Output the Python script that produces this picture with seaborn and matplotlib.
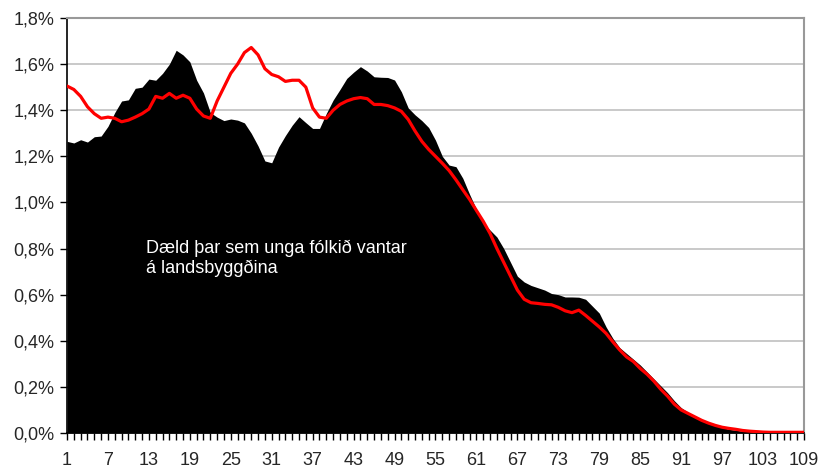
import numpy as np
import pandas as pd
import matplotlib
matplotlib.use('Agg')
import matplotlib.pyplot as plt
import seaborn as sns
from matplotlib.ticker import FuncFormatter, FixedLocator

# Aldur 1-109
ages = list(range(1, 110))

# Hlutfall af mannfjölda (%) - svarta svæðið
black_share = [
    1.265, 1.258, 1.272, 1.262, 1.285, 1.288, 1.33, 1.39, 1.44, 1.445,
    1.495, 1.50, 1.535, 1.53, 1.56, 1.60, 1.66, 1.64, 1.61, 1.53,
    1.475, 1.39, 1.37, 1.355, 1.362, 1.357, 1.345, 1.30, 1.245, 1.18,
    1.172, 1.24, 1.29, 1.335, 1.372, 1.346, 1.321, 1.321, 1.386, 1.444,
    1.49, 1.538, 1.565, 1.589, 1.57, 1.545, 1.543, 1.542, 1.531, 1.48,
    1.41, 1.38, 1.355, 1.325, 1.27, 1.20, 1.162, 1.155, 1.105, 1.035,
    0.97, 0.91, 0.88, 0.85, 0.80, 0.74, 0.68, 0.655, 0.64, 0.63,
    0.62, 0.605, 0.60, 0.59, 0.59, 0.589, 0.58, 0.55, 0.52, 0.46,
    0.41, 0.37, 0.345, 0.32, 0.295, 0.265, 0.235, 0.205, 0.175, 0.14,
    0.11, 0.09, 0.075, 0.058, 0.045, 0.033, 0.024, 0.016, 0.012, 0.008,
    0.005, 0.003, 0.002, 0.001, 0.001, 0.0005, 0.0003, 0.0002, 0.0001,
]

# Hlutfall af mannfjölda (%) - rauða línan
red_share = [
    1.505, 1.49, 1.46, 1.415, 1.385, 1.365, 1.37, 1.365, 1.35, 1.357,
    1.37, 1.385, 1.405, 1.46, 1.452, 1.473, 1.452, 1.465, 1.452, 1.405,
    1.375, 1.365, 1.44, 1.50, 1.56, 1.60, 1.65, 1.672, 1.64, 1.58,
    1.555, 1.545, 1.525, 1.53, 1.53, 1.50, 1.41, 1.37, 1.365, 1.40,
    1.425, 1.44, 1.45, 1.455, 1.45, 1.425, 1.425, 1.42, 1.41, 1.395,
    1.36, 1.31, 1.265, 1.23, 1.20, 1.17, 1.138, 1.098, 1.055, 1.013,
    0.965, 0.918, 0.865, 0.80, 0.74, 0.68, 0.62, 0.58, 0.565, 0.562,
    0.558, 0.556, 0.545, 0.53, 0.522, 0.533, 0.51, 0.485, 0.46, 0.432,
    0.395, 0.36, 0.33, 0.31, 0.28, 0.255, 0.225, 0.19, 0.16, 0.125,
    0.10, 0.085, 0.07, 0.055, 0.043, 0.033, 0.025, 0.02, 0.016, 0.011,
    0.008, 0.006, 0.004, 0.003, 0.003, 0.003, 0.003, 0.003, 0.003,
]

x_labels = list(range(1, 110, 6))
y_ticks = [0.0, 0.2, 0.4, 0.6, 0.8, 1.0, 1.2, 1.4, 1.6, 1.8]

sns.set_style('white')
plt.rcParams['font.family'] = ['Liberation Sans', 'DejaVu Sans']

df = pd.DataFrame({'aldur': ages, 'svart': black_share, 'rautt': red_share})

fig = plt.figure(figsize=(8.23, 4.68), dpi=100)
ax = fig.add_axes([67 / 823, 1 - 433 / 468, (804 - 67) / 823, (433 - 18) / 468])

ax.fill_between(df['aldur'], 0, df['svart'], color='black', linewidth=0, zorder=2)
sns.lineplot(data=df, x='aldur', y='rautt', color='#ff0000', linewidth=2.3, ax=ax, zorder=3)

ax.set_xlim(1, 109)
ax.set_ylim(0, 1.8)
ax.yaxis.set_major_locator(FixedLocator(y_ticks))
ax.yaxis.set_major_formatter(FuncFormatter(lambda v, p: f'{v:.1f}%'.replace('.', ',')))
ax.set_xticks(x_labels)
ax.set_xticks(ages, minor=True)
ax.set_xticklabels([str(v) for v in x_labels])
ax.grid(axis='y', color='#c0c0c0', linewidth=1.2, zorder=0)
ax.set_axisbelow(True)

ax.tick_params(axis='y', which='major', direction='out', length=5, width=1, color='black',
               labelsize=13, pad=4, left=True)
ax.tick_params(axis='x', which='both', direction='out', length=5, width=1, color='black',
               bottom=True)
ax.tick_params(axis='x', which='major', labelsize=13, pad=9)

for side in ['top', 'right']:
    ax.spines[side].set_color('#999999')
    ax.spines[side].set_linewidth(1.5)
for side in ['left', 'bottom']:
    ax.spines[side].set_color('black')
    ax.spines[side].set_linewidth(1.2)

ax.set_xlabel('')
ax.set_ylabel('')

ax.text(12.6, 0.84, 'Dæld þar sem unga fólkið vantar\ná landsbyggðina', color='white',
        fontsize=13, va='top', ha='left', linespacing=1.2, zorder=4)

fig.savefig('out.png', dpi=100)
